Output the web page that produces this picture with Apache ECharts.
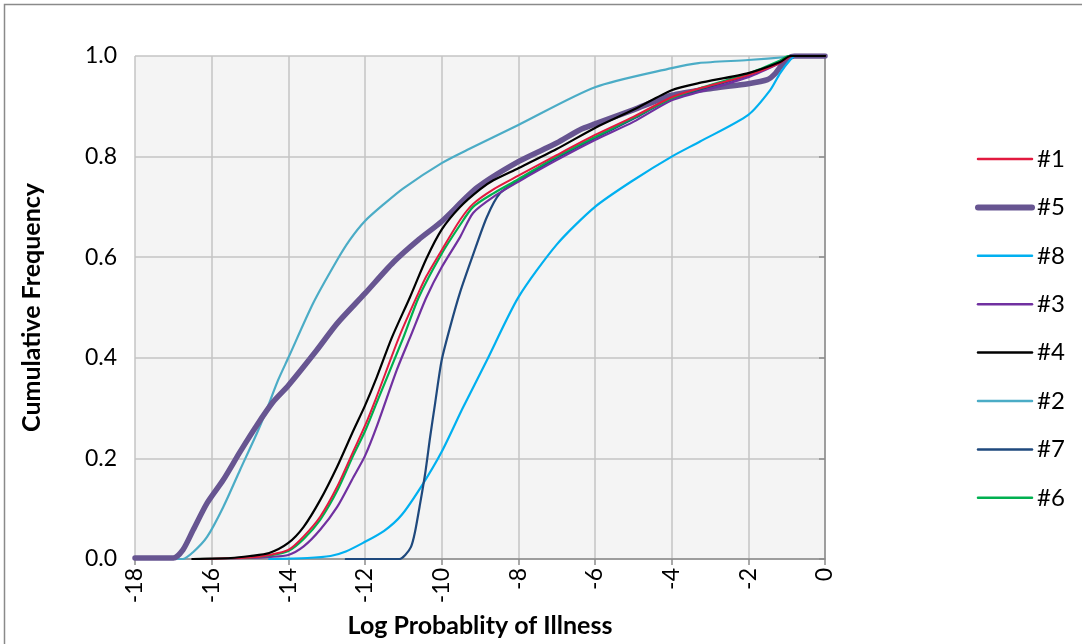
<!DOCTYPE html>
<html>
<head>
<meta charset="utf-8">
<script src="https://cdn.jsdelivr.net/npm/echarts@6/dist/echarts.min.js"></script>
<style>
  html, body { margin: 0; padding: 0; background: #ffffff; }
  #chart { width: 1082px; height: 644px; }
</style>
</head>
<body>
<div id="chart"></div>
<script>
// Axis ticks
const xTicks = [-18, -16, -14, -12, -10, -8, -6, -4, -2, 0];
const yTicks = [0, 0.2, 0.4, 0.6, 0.8, 1.0];

// Series names in legend order
const seriesNames = ['#1', '#5', '#8', '#3', '#4', '#2', '#7', '#6'];

// Cumulative frequency curves: [log probability, cumulative frequency]
const s1 = [[-16.5,0],[-15,0.003],[-14.5,0.008],[-14,0.018],[-13.6,0.045],[-13.17,0.084],[-12.73,0.143],[-12.3,0.215],[-12,0.265],[-11.7,0.322],[-11.09,0.445],[-10.6,0.53],[-10.4,0.562],[-10,0.614],[-9.52,0.674],[-9.18,0.706],[-8.65,0.735],[-8,0.762],[-7,0.803],[-6,0.843],[-5,0.879],[-4,0.918],[-3.3,0.935],[-2,0.962],[-1.2,0.985],[-0.85,1.0],[0,1.0]];
const s5 = [[-18,0.002],[-17,0.002],[-16.75,0.018],[-16.48,0.058],[-16.12,0.111],[-15.7,0.157],[-15.26,0.213],[-14.82,0.266],[-14.4,0.312],[-14,0.345],[-13.26,0.415],[-12.73,0.468],[-12,0.528],[-11.26,0.59],[-10.6,0.635],[-10,0.671],[-9.08,0.738],[-8,0.79],[-7,0.827],[-6.4,0.853],[-6,0.865],[-5,0.893],[-4,0.922],[-3,0.935],[-2,0.945],[-1.5,0.953],[-1.3,0.965],[-1.17,0.978],[-0.96,0.995],[-0.8,1.0],[0,1.0]];
const s8 = [[-14.5,0],[-13.5,0.002],[-12.9,0.006],[-12.5,0.015],[-12.05,0.032],[-11.5,0.056],[-11.04,0.088],[-10.5,0.148],[-10,0.213],[-9.45,0.30],[-8.82,0.395],[-8,0.52],[-7,0.625],[-6,0.70],[-5,0.753],[-4,0.80],[-3.26,0.83],[-2,0.883],[-1.43,0.932],[-1.17,0.966],[-0.91,0.992],[-0.78,1.0],[0,1.0]];
const s3 = [[-16.5,0],[-15,0.002],[-14.5,0.004],[-14,0.008],[-13.6,0.025],[-13.17,0.058],[-12.73,0.103],[-12.3,0.163],[-12,0.205],[-11.7,0.262],[-11.17,0.376],[-10.8,0.445],[-10.4,0.52],[-10,0.58],[-9.52,0.64],[-9.18,0.688],[-8.65,0.72],[-8,0.75],[-7,0.793],[-6,0.833],[-5,0.869],[-4,0.912],[-3.3,0.928],[-2,0.958],[-1.2,0.985],[-0.85,1.0],[0,1.0]];
const s4 = [[-16.5,0],[-15.5,0.002],[-15,0.006],[-14.5,0.012],[-14,0.032],[-13.6,0.064],[-13.17,0.117],[-12.73,0.183],[-12.3,0.256],[-12,0.305],[-11.7,0.36],[-11.3,0.44],[-10.83,0.52],[-10.4,0.597],[-10,0.655],[-9.52,0.70],[-9,0.735],[-8.65,0.753],[-8,0.777],[-7,0.815],[-6,0.857],[-5,0.893],[-4,0.932],[-3.3,0.946],[-2,0.966],[-1.17,0.988],[-0.9,1.0],[0,1.0]];
const s2 = [[-18,0],[-16.75,0],[-16.48,0.014],[-16.12,0.044],[-15.7,0.103],[-15.26,0.177],[-14.82,0.25],[-14.6,0.29],[-14.27,0.355],[-14,0.40],[-13.35,0.509],[-12.73,0.594],[-12.4,0.634],[-12,0.672],[-11.5,0.706],[-11,0.737],[-10,0.787],[-9.34,0.813],[-8,0.863],[-6,0.938],[-4,0.976],[-3.3,0.986],[-2,0.992],[-1,0.998],[-0.85,1.0],[0,1.0]];
const s7 = [[-12.5,0],[-11.1,0],[-10.95,0.008],[-10.8,0.024],[-10.7,0.052],[-10.56,0.111],[-10.43,0.17],[-10.3,0.243],[-10.17,0.31],[-10,0.395],[-9.78,0.461],[-9.52,0.53],[-9.18,0.605],[-8.82,0.68],[-8.48,0.727],[-8,0.752],[-7,0.797],[-6,0.837],[-5,0.875],[-4,0.915],[-2,0.962],[-1.2,0.988],[-0.9,1.0],[0,1.0]];
const s6 = [[-16.5,0],[-15,0.003],[-14.5,0.007],[-14,0.016],[-13.6,0.04],[-13.17,0.078],[-12.73,0.135],[-12.3,0.207],[-12,0.254],[-11.7,0.31],[-11.0,0.44],[-10.6,0.52],[-10,0.607],[-9.52,0.664],[-9.18,0.70],[-8.65,0.727],[-8,0.755],[-7,0.80],[-6,0.839],[-5,0.877],[-4,0.916],[-3.3,0.935],[-2,0.965],[-1.2,0.99],[-0.95,1.0],[0,1.0]];

const seriesData = [s1, s5, s8, s3, s4, s2, s7, s6];
const seriesColors = ['#E2193F', '#675591', '#00B0F0', '#7030A0', '#000000', '#4BACC6', '#1F497D', '#00B050'];
const seriesWidths = [2, 5.5, 2.2, 2.2, 2.2, 2.2, 2.2, 2.2];

const FONT = 'Lato, "Open Sans", sans-serif';

const chart = echarts.init(document.getElementById('chart'));

// draw order: thick #5 and teal underneath, the bundle on top
const drawOrder = ['#2', '#5', '#8', '#7', '#3', '#6', '#1', '#4'];

const series = seriesNames.map((name, i) => ({
  name: name,
  type: 'line',
  data: seriesData[i],
  symbol: 'none',
  smooth: 0.25,
  z: 2 + drawOrder.indexOf(name) * 0.01,
  lineStyle: { color: seriesColors[i], width: seriesWidths[i], cap: 'round', join: 'round' },
  itemStyle: { color: seriesColors[i] },
  emphasis: { disabled: true }
}));

// legend entries carry the same stroke width as their curves
const legendData = seriesNames.map((name, i) => ({
  name: name,
  lineStyle: { width: i === 1 ? 6 : 2.5, color: seriesColors[i], cap: 'round' }
}));

chart.setOption({
  animation: false,
  backgroundColor: '#ffffff',
  textStyle: { fontFamily: FONT },
  graphic: [{
    type: 'rect',
    silent: true,
    shape: { x: 4.5, y: 4.5, width: 1100, height: 700 },
    style: { fill: null, stroke: '#8a8a8a', lineWidth: 1.5 },
    z: -10
  }],
  grid: {
    left: 135, top: 56, width: 690, height: 503,
    show: true, backgroundColor: '#F4F4F4', borderWidth: 0
  },
  legend: {
    orient: 'vertical',
    left: 970, top: 142,
    itemWidth: 54, itemHeight: 22, itemGap: 24.4,
    itemStyle: { opacity: 0 },
    textStyle: { fontFamily: FONT, fontSize: 24, color: '#000' },
    data: legendData
  },
  xAxis: {
    type: 'value',
    min: xTicks[0], max: xTicks[xTicks.length - 1], interval: 2,
    name: 'Log Probablity of Illness',
    nameLocation: 'middle',
    nameGap: 54,
    nameTextStyle: { fontFamily: FONT, fontSize: 25, fontWeight: 'bold', color: '#000' },
    axisLine: { show: true, onZero: false, lineStyle: { color: '#8c8c8c', width: 1.5 } },
    axisTick: { show: true, inside: false, length: 6, lineStyle: { color: '#8c8c8c', width: 1.5 } },
    axisLabel: { rotate: 90, margin: 9, fontFamily: FONT, fontSize: 23, color: '#000',
      formatter: v => String(v) },
    splitLine: { show: true, lineStyle: { color: '#C4C4C4', width: 1.5 } }
  },
  yAxis: {
    type: 'value',
    min: yTicks[0], max: yTicks[yTicks.length - 1], interval: 0.2,
    name: 'Cumulative Frequency',
    nameLocation: 'middle',
    nameGap: 91,
    nameTextStyle: { fontFamily: FONT, fontSize: 25, fontWeight: 'bold', color: '#000' },
    axisLine: { show: true, lineStyle: { color: '#8c8c8c', width: 1.5 } },
    axisTick: { show: true, inside: false, length: 6, lineStyle: { color: '#8c8c8c', width: 1.5 } },
    axisLabel: { margin: 18, fontFamily: FONT, fontSize: 23, color: '#000',
      formatter: v => v.toFixed(1) },
    splitLine: { show: true, lineStyle: { color: '#C4C4C4', width: 1.5 } }
  },
  series: series
});
</script>
</body>
</html>
